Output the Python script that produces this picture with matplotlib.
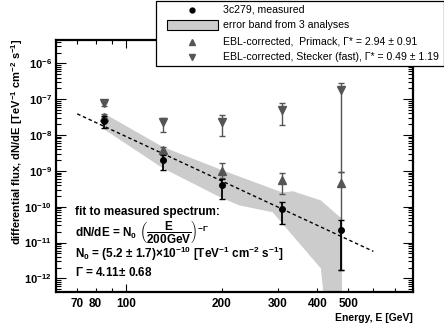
import matplotlib
matplotlib.use("Agg")
import matplotlib.pyplot as plt
import numpy as np
from matplotlib.patches import Rectangle
from matplotlib.lines import Line2D
from matplotlib.ticker import FixedLocator, FixedFormatter, NullFormatter

plt.rcParams['font.family'] = ['Liberation Sans', 'DejaVu Sans']
plt.rcParams['mathtext.fontset'] = 'custom'
plt.rcParams['mathtext.bf'] = 'Liberation Sans:bold'
plt.rcParams['mathtext.rm'] = 'Liberation Sans:bold'
plt.rcParams['mathtext.it'] = 'Liberation Sans:bold'
plt.rcParams['mathtext.sf'] = 'Liberation Sans:bold'
plt.rcParams['mathtext.default'] = 'bf'

# ---------------- data ----------------
energy = [85, 130, 200, 310, 475]
measured = [2.5e-8, 2.05e-9, 4.0e-10, 8.5e-11, 2.2e-11]
measured_hi = [3.4e-8, 2.8e-9, 5.9e-10, 1.35e-10, 4.2e-11]
measured_lo = [1.6e-8, 1.05e-9, 1.6e-10, 3.4e-11, 1.7e-12]

primack = [3.2e-8, 3.8e-9, 1.0e-9, 5.5e-10, 4.5e-10]
primack_hi = [3.9e-8, 4.5e-9, 1.7e-9, 8.7e-10, 9.3e-10]
primack_lo = [2.3e-8, 3.0e-9, 6.5e-10, 2.3e-10, 1.7e-12]

stecker = [7.6e-8, 2.35e-8, 2.35e-8, 5.0e-8, 1.8e-7]
stecker_hi = [8.5e-8, 2.9e-8, 3.6e-8, 7.6e-8, 2.9e-7]
stecker_lo = [6.5e-8, 1.2e-8, 9.3e-9, 1.9e-8, 9.3e-10]

band_upper_E = [85, 130, 200, 310, 335, 410, 470, 478]
band_upper = [4.0e-8, 4.7e-9, 1.05e-9, 2.5e-10, 2.7e-10, 1.5e-10, 5.2e-11, 5.0e-11]
band_lower_E = [85, 130, 196, 226, 289, 410, 424, 478]
band_lower = [1.45e-8, 1.2e-9, 1.9e-10, 1.1e-10, 7.0e-11, 1.9e-12, 1e-13, 1e-13]

fit_N0 = 5.2e-10
fit_gamma = 4.11
fit_E0 = 200.0
fit_range = [70, 600]

xtick_vals = [70, 80, 100, 200, 300, 400, 500]
xtick_labels = ['70', '80', '100', '200', '300', '400', '500']
ytick_exps = [-12, -11, -10, -9, -8, -7, -6]

legend_labels = ['3c279, measured', 'error band from 3 analyses',
                 'EBL-corrected,  Primack, \u0393* = 2.94 \u00b1 0.91',
                 'EBL-corrected, Stecker (fast), \u0393* = 0.49 \u00b1 1.19']

# ---------------- figure ----------------
W, H = 444, 330
fig = plt.figure(figsize=(W / 100, H / 100), dpi=100)

def px(x, y):
    return (x / W, 1 - y / H)

ax = fig.add_axes([56 / W, 1 - 291.7 / H, (413 - 56) / W, (291.7 - 40) / H])
ax.set_xscale('log')
ax.set_yscale('log')
ax.set_xlim(60, 800)
ax.set_ylim(10 ** -12.37, 10 ** -5.35)

# band
poly_x = list(band_upper_E) + list(band_lower_E[::-1])
poly_y = list(band_upper) + list(band_lower[::-1])
ax.fill(poly_x, poly_y, color='#cccccc', lw=0, zorder=1)

# fit line
fe = np.geomspace(fit_range[0], fit_range[1], 100)
ax.plot(fe, fit_N0 * (fe / fit_E0) ** (-fit_gamma), color='black', lw=1.0,
        ls=(0, (2.5, 2.0)), zorder=2)

gray = '#555555'
def errs(v, hi, lo):
    v = np.array(v); return [v - np.array(lo), np.array(hi) - v]

ax.errorbar(energy, stecker, yerr=errs(stecker, stecker_hi, stecker_lo), fmt='v',
            color=gray, ms=6, capsize=2.2, elinewidth=1.0, capthick=1.0, zorder=3)
ax.errorbar(energy, primack, yerr=errs(primack, primack_hi, primack_lo), fmt='^',
            color=gray, ms=6, capsize=2.2, elinewidth=1.0, capthick=1.0, zorder=4)
ax.errorbar(energy, measured, yerr=errs(measured, measured_hi, measured_lo), fmt='o',
            color='black', ms=4, capsize=2.2, elinewidth=1.3, capthick=1.0, zorder=5)

# ticks
ax.xaxis.set_major_locator(FixedLocator([100]))
ax.xaxis.set_major_formatter(NullFormatter())
minor_x = [m * 10 ** d for d in (1, 2) for m in range(2, 10) if 60 <= m * 10 ** d <= 800]
ax.xaxis.set_minor_locator(FixedLocator(minor_x))
ax.xaxis.set_minor_formatter(NullFormatter())
for v, lab in zip(xtick_vals, xtick_labels):
    ax.text(v, -0.025, lab, transform=ax.get_xaxis_transform(), ha='center', va='top',
            fontsize=8.5, fontweight='bold')

ax.yaxis.set_major_locator(FixedLocator([10.0 ** e for e in ytick_exps]))
ax.yaxis.set_major_formatter(FixedFormatter([r'$10^{%d}$' % e for e in ytick_exps]))
minor_y = [m * 10.0 ** d for d in range(-13, -5) for m in range(2, 10)]
ax.yaxis.set_minor_locator(FixedLocator(minor_y))
ax.yaxis.set_minor_formatter(NullFormatter())

ax.tick_params(axis='both', which='both', direction='in', top=True, right=True, width=0.8)
ax.tick_params(axis='x', which='major', length=5.5)
ax.tick_params(axis='x', which='minor', length=2.8)
ax.tick_params(axis='y', which='major', length=7, labelsize=8, pad=3)
ax.tick_params(axis='y', which='minor', length=3.5)
for s in ax.spines.values():
    s.set_linewidth(1.6)

fig.text(*px(413, 318), 'Energy, E [GeV]', ha='right', va='center', fontsize=7.5,
         fontweight='bold')
fig.text(*px(17, 38), r'differential flux, dN/dE [TeV$^{-1}$ cm$^{-2}$ s$^{-1}$]',
         rotation=90, ha='center', va='top', fontsize=8, fontweight='bold')

# fit annotation
fig.text(*px(75, 212), 'fit to measured spectrum:', ha='left', va='center', fontsize=8.5,
         fontweight='bold')
fig.text(*px(75, 233), r'dN/dE = N$_0$ $\left(\dfrac{E}{200GeV}\right)^{-\Gamma}$',
         ha='left', va='center', fontsize=8.5, fontweight='bold')
fig.text(*px(75, 254), r'N$_0$ = (5.2 $\pm$ 1.7)$\times$10$^{-10}$ [TeV$^{-1}$ cm$^{-2}$ s$^{-1}$]',
         ha='left', va='center', fontsize=8.5, fontweight='bold')
fig.text(*px(75, 272), r'$\Gamma$ = 4.11$\pm$ 0.68', ha='left', va='center', fontsize=8.5,
         fontweight='bold')

# legend box
x0, y0 = px(156, 66)
x1, y1 = px(443.5, 1)
fig.patches.append(Rectangle((x0, y0), x1 - x0, y1 - y0, transform=fig.transFigure,
                             facecolor='white', edgecolor='black', lw=0.9, zorder=10))
rows = [10, 25, 42, 57]
mx = 192
fig.lines.append(Line2D([px(mx, 0)[0]], [px(0, rows[0])[1]], transform=fig.transFigure,
                        marker='o', ms=3.5, color='black', ls='none', zorder=11))
rx0, ry0 = px(167, 30)
rx1, ry1 = px(218, 20)
fig.patches.append(Rectangle((rx0, ry0), rx1 - rx0, ry1 - ry0, transform=fig.transFigure,
                             facecolor='#cccccc', edgecolor='black', lw=0.8, zorder=11))
fig.lines.append(Line2D([px(mx, 0)[0]], [px(0, rows[2])[1]], transform=fig.transFigure,
                        marker='^', ms=5, color=gray, ls='none', zorder=11))
fig.lines.append(Line2D([px(mx, 0)[0]], [px(0, rows[3])[1]], transform=fig.transFigure,
                        marker='v', ms=5, color=gray, ls='none', zorder=11))
for r, lab in zip(rows, legend_labels):
    fig.text(*px(223, r), lab, ha='left', va='center', fontsize=7.6, zorder=12)

fig.savefig('out.png', dpi=100)
